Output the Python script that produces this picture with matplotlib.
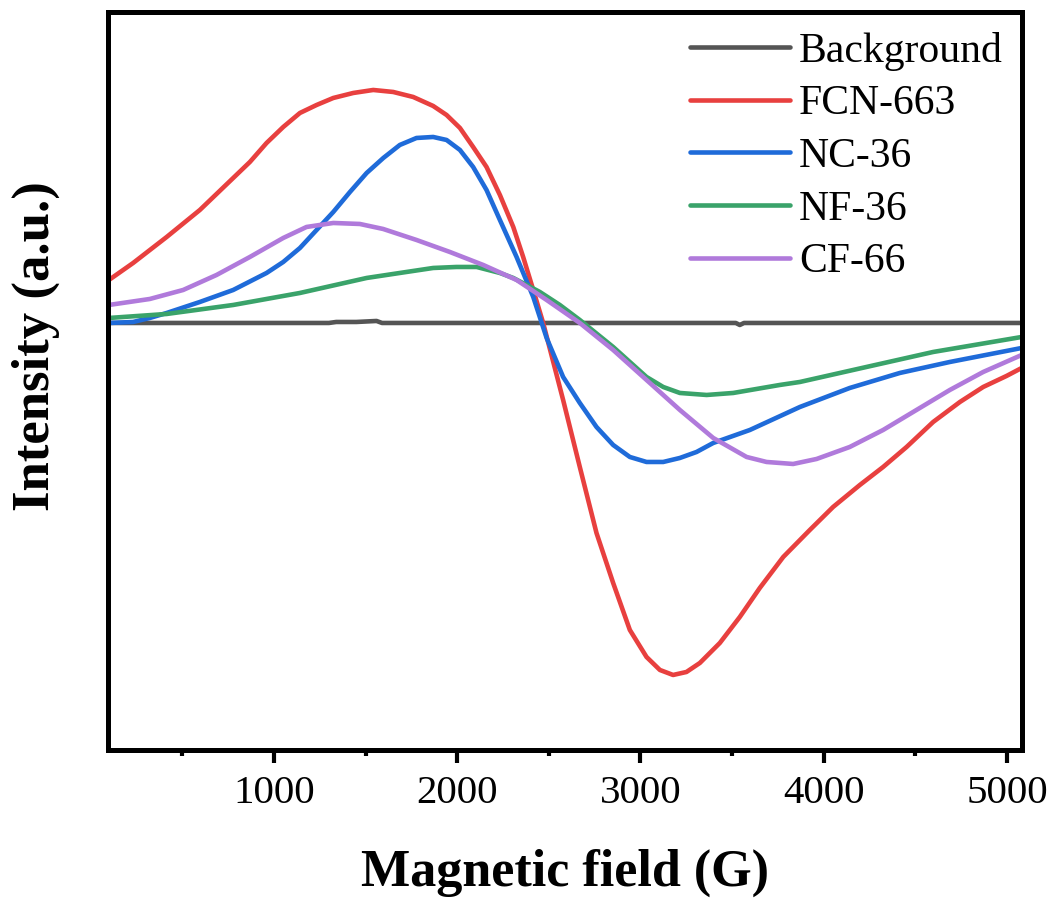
import matplotlib
matplotlib.use("Agg")
import matplotlib.pyplot as plt
from matplotlib.ticker import MultipleLocator

# EPR spectra (field in G, intensity in a.u.)
bg_x = [100, 1300, 1340, 1450, 1560, 1590, 3520, 3542, 3565, 5080]
bg_y = [0, 0, 1, 1, 2, 0, 0, -2, 0, 0]

fcn_x = [100, 232, 415, 596, 778, 869, 960, 1051, 1142, 1233, 1324, 1433, 1542,
         1651, 1760, 1869, 1942, 2015, 2087, 2160, 2233, 2306, 2360, 2415, 2469,
         2578, 2669, 2760, 2851, 2942, 3033, 3106, 3178, 3251, 3324, 3433, 3542,
         3651, 3779, 3924, 4051, 4197, 4324, 4452, 4597, 4743, 4870, 4997, 5080]
fcn_y = [43, 60, 86, 113, 145, 161, 180, 196, 210, 218, 225, 230, 233,
         231, 226, 217, 208, 195, 176, 156, 128, 96, 66, 33, 0,
         -77, -144, -210, -260, -307, -334, -347, -352, -349, -340, -320, -294,
         -265, -234, -207, -184, -162, -144, -124, -99, -79, -64, -53, -45]

nc_x = [100, 232, 323, 415, 596, 778, 960, 1051, 1142, 1233, 1324, 1415, 1506,
        1597, 1687, 1778, 1869, 1942, 2015, 2087, 2160, 2233, 2324, 2415, 2488,
        2578, 2669, 2760, 2851, 2942, 3033, 3124, 3215, 3306, 3397, 3597, 3870,
        4142, 4415, 4688, 5080]
nc_y = [0, 1, 5, 10, 21, 33, 50, 61, 75, 93, 111, 131, 150,
        165, 178, 185, 186, 183, 173, 156, 133, 103, 66, 26, -15,
        -54, -80, -104, -122, -134, -139, -139, -135, -129, -120, -107, -84,
        -65, -50, -39, -25]

nf_x = [100, 415, 778, 1142, 1506, 1687, 1869, 1996, 2106, 2233, 2306, 2451, 2560,
        2669, 2851, 3033, 3124, 3215, 3361, 3506, 3760, 3870, 4233, 4597, 5080]
nf_y = [5, 9, 18, 30, 45, 50, 55, 56, 56, 50, 45, 31, 18,
        3, -24, -54, -64, -70, -72, -70, -62, -59, -44, -29, -14]

cf_x = [100, 323, 505, 687, 869, 1051, 1178, 1324, 1469, 1596, 1778, 1960, 2142,
        2324, 2488, 2669, 2851, 3033, 3215, 3397, 3579, 3688, 3833, 3961, 4142,
        4324, 4506, 4688, 4870, 5080]
cf_y = [18, 24, 33, 48, 66, 85, 96, 100, 99, 94, 83, 71, 58,
        43, 23, 0, -27, -57, -87, -115, -134, -139, -141, -136, -124,
        -107, -87, -67, -49, -32]

series = [
    ("Background", bg_x, bg_y, "#555555"),
    ("FCN-663", fcn_x, fcn_y, "#E8403F"),
    ("NC-36", nc_x, nc_y, "#1F6BD9"),
    ("NF-36", nf_x, nf_y, "#3AA36A"),
    ("CF-66", cf_x, cf_y, "#B07ADB"),
]

plt.rcParams["font.family"] = ["Liberation Serif", "DejaVu Serif"]

fig = plt.figure(figsize=(10.54, 9.0), dpi=100)
ax = fig.add_axes([0.1025, 0.1667, 0.8672, 0.82])

for name, xs, ys, col in series:
    ax.plot(xs, ys, color=col, lw=3.3, label=name,
            solid_joinstyle="round", solid_capstyle="round")

ax.set_xlim(95, 5082)
ax.set_ylim(-427, 311)

ax.xaxis.set_major_locator(MultipleLocator(1000))
ax.xaxis.set_minor_locator(MultipleLocator(500))
ax.set_yticks([])
ax.tick_params(axis="x", which="major", length=9, width=3, labelsize=29.5, pad=9)
ax.tick_params(axis="x", which="minor", length=4.5, width=3)
for sp in ax.spines.values():
    sp.set_linewidth(3.6)

ax.set_xlabel("Magnetic field (G)", fontsize=37.5, fontweight="bold")
ax.xaxis.set_label_coords(0.5, -0.134)
ax.set_ylabel("Intensity (a.u.)", fontsize=38, fontweight="bold")
ax.yaxis.set_label_coords(-0.053, 0.547)

ax.legend(loc="upper right", bbox_to_anchor=(0.997, 0.996), frameon=False,
          fontsize=30, handlelength=2.4, handletextpad=0.22, labelspacing=0.34,
          borderaxespad=0)

fig.savefig("out.png", dpi=100)
